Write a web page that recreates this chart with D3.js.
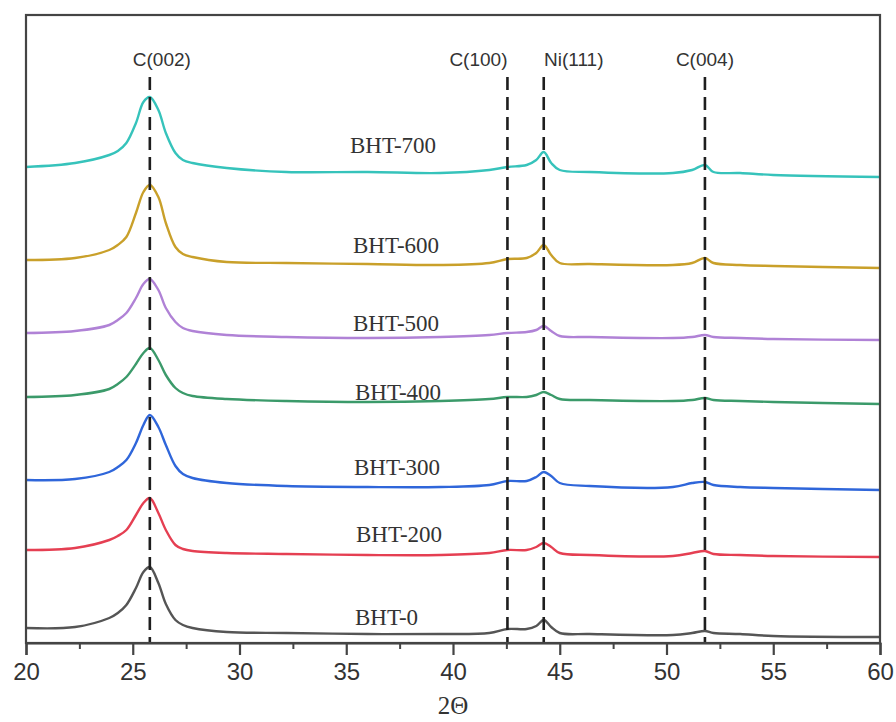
<!DOCTYPE html>
<html>
<head>
<meta charset="utf-8">
<script src="https://cdn.jsdelivr.net/npm/d3@7"></script>
<style>
  body { margin: 0; background: #fff; }
</style>
</head>
<body>
<svg id="chart" width="896" height="722"></svg>
<script>
'use strict';

/* ── data (2θ grid, stacked XRD patterns, a.u.) ─────────── */
const twoTheta = [20, 22.3, 23.9, 24.3, 24.7, 25.15, 25.5, 25.8, 26.2, 26.55, 27.0, 27.35, 27.8, 29.4, 32.2, 36,
  39.4, 41.7, 42.55, 43.45, 43.9, 44.25, 44.6, 45.0, 46.4, 50.3, 51.2, 51.8, 52.2, 53.45, 55, 60];

const seriesNames  = ['BHT-700', 'BHT-600', 'BHT-500', 'BHT-400', 'BHT-300', 'BHT-200', 'BHT-0'];
const seriesColors = ['#36c3bb', '#c9a02a', '#b082d6', '#3b9a6a', '#2f66da', '#e53f52', '#555555'];
const offsets      = [466, 375, 303, 239, 153, 86, 6];

const bht700 = [10, 14, 22, 26, 34, 54, 75, 80, 67, 44, 24, 17, 14, 9, 5, 5, 4, 7, 10, 12, 17, 25, 14, 7, 5, 4, 7, 12, 5, 4, 2, 0];
const bht600 = [8, 10, 18, 23, 31, 55, 76, 83, 71, 45, 21, 14, 11, 6, 5, 4, 3, 5, 9, 10, 15, 23, 13, 5, 4, 3, 5, 10, 5, 3, 2, 0];
const bht500 = [7, 9, 15, 20, 27, 42, 56, 61, 50, 32, 18, 12, 9, 5, 3, 2, 3, 5, 7, 8, 10, 14, 9, 4, 3, 2, 3, 5, 3, 2, 1, 0];
const bht400 = [7, 9, 15, 20, 27, 40, 51, 56, 44, 29, 16, 11, 8, 5, 3, 2, 3, 5, 7, 7, 9, 12, 9, 5, 4, 3, 4, 6, 4, 3, 2, 0];
const bht300 = [10, 11, 18, 23, 30, 47, 65, 75, 63, 45, 24, 16, 12, 7, 4, 3, 3, 5, 9, 9, 13, 18, 14, 7, 4, 3, 7, 8, 5, 3, 2, 0];
const bht200 = [7, 9, 17, 21, 27, 42, 54, 59, 44, 27, 12, 8, 6, 4, 3, 2, 2, 4, 7, 7, 10, 14, 10, 4, 2, 1, 4, 6, 3, 2, 1, 0];
const bht0   = [9, 10, 19, 24, 32, 49, 65, 70, 54, 33, 17, 12, 9, 5, 4, 3, 3, 4, 8, 8, 11, 17, 10, 4, 3, 2, 4, 6, 4, 3, 1, 0];
const seriesValues = [bht700, bht600, bht500, bht400, bht300, bht200, bht0];

const peakPositions = [25.8, 42.55, 44.25, 51.8];
const peakLabels    = ['C(002)', 'C(100)', 'Ni(111)', 'C(004)'];

const xMajorTicks = [20, 25, 30, 35, 40, 45, 50, 55, 60];
const xMinorTicks = [22.5, 27.5, 32.5, 37.5, 42.5, 47.5, 52.5, 57.5];

/* ── layout ──────────────────────────────── */
const plot = { left: 26, right: 880, top: 15, bottom: 643 };
const svg = d3.select('#chart');

const x = d3.scaleLinear().domain([20, 60]).range([plot.left, plot.right]);
const y = d3.scaleLinear().domain([0, 628]).range([plot.bottom, plot.top]);

// series
const line = d3.line()
  .x(d => x(d[0]))
  .y(d => y(d[1]))
  .curve(d3.curveCatmullRom.alpha(0.5));

seriesValues.forEach((vals, i) => {
  const pts = twoTheta.map((t, k) => [t, vals[k] + offsets[i]]);
  svg.append('path')
    .attr('d', line(pts))
    .attr('fill', 'none')
    .attr('stroke', seriesColors[i])
    .attr('stroke-width', 2.4)
    .attr('stroke-linejoin', 'round');
});

// series labels
const labelX = [350, 353, 353, 355, 354, 356, 355];
const labelBaseline = [153, 253, 331, 400, 475, 542, 625];
seriesNames.forEach((name, i) => {
  svg.append('text')
    .attr('x', labelX[i])
    .attr('y', labelBaseline[i])
    .attr('font-family', "'Liberation Serif', 'Times New Roman', serif")
    .attr('font-size', '23px')
    .attr('fill', '#333')
    .text(name);
});

// reference dashed lines
const peakLabelDx = [12, -29, 30, 0];
peakPositions.forEach((p, i) => {
  svg.append('line')
    .attr('x1', x(p)).attr('x2', x(p))
    .attr('y1', 77).attr('y2', plot.bottom)
    .attr('stroke', '#1e1e1e')
    .attr('stroke-width', 2.6)
    .attr('stroke-dasharray', '13,7');
  svg.append('text')
    .attr('x', x(p) + peakLabelDx[i])
    .attr('y', 66)
    .attr('text-anchor', 'middle')
    .attr('font-family', "'Liberation Sans', Arial, sans-serif")
    .attr('font-size', '19px')
    .attr('fill', '#333')
    .text(peakLabels[i]);
});

// frame
svg.append('rect')
  .attr('x', plot.left).attr('y', plot.top)
  .attr('width', plot.right - plot.left)
  .attr('height', plot.bottom - plot.top)
  .attr('fill', 'none')
  .attr('stroke', '#444')
  .attr('stroke-width', 2.2);

// x axis
const axisMajor = d3.axisBottom(x).tickValues(xMajorTicks).tickSize(12).tickPadding(8).tickFormat(d3.format('d'));
const gx = svg.append('g').attr('transform', `translate(0,${plot.bottom})`).call(axisMajor);
gx.select('.domain').attr('stroke', '#444').attr('stroke-width', 2.2);
gx.selectAll('.tick line').attr('stroke', '#444').attr('stroke-width', 2.2);
gx.selectAll('.tick text')
  .attr('font-family', "'Liberation Sans', Arial, sans-serif")
  .attr('font-size', '24px')
  .attr('fill', '#333');

const axisMinor = d3.axisBottom(x).tickValues(xMinorTicks).tickSize(6).tickFormat('');
const gm = svg.append('g').attr('transform', `translate(0,${plot.bottom})`).call(axisMinor);
gm.select('.domain').remove();
gm.selectAll('.tick line').attr('stroke', '#444').attr('stroke-width', 2);

// axis title
svg.append('text')
  .attr('x', (plot.left + plot.right) / 2)
  .attr('y', 714)
  .attr('text-anchor', 'middle')
  .attr('font-family', "'Liberation Serif', 'Times New Roman', serif")
  .attr('font-size', '25px')
  .attr('fill', '#333')
  .text('2Θ');
</script>
</body>
</html>
